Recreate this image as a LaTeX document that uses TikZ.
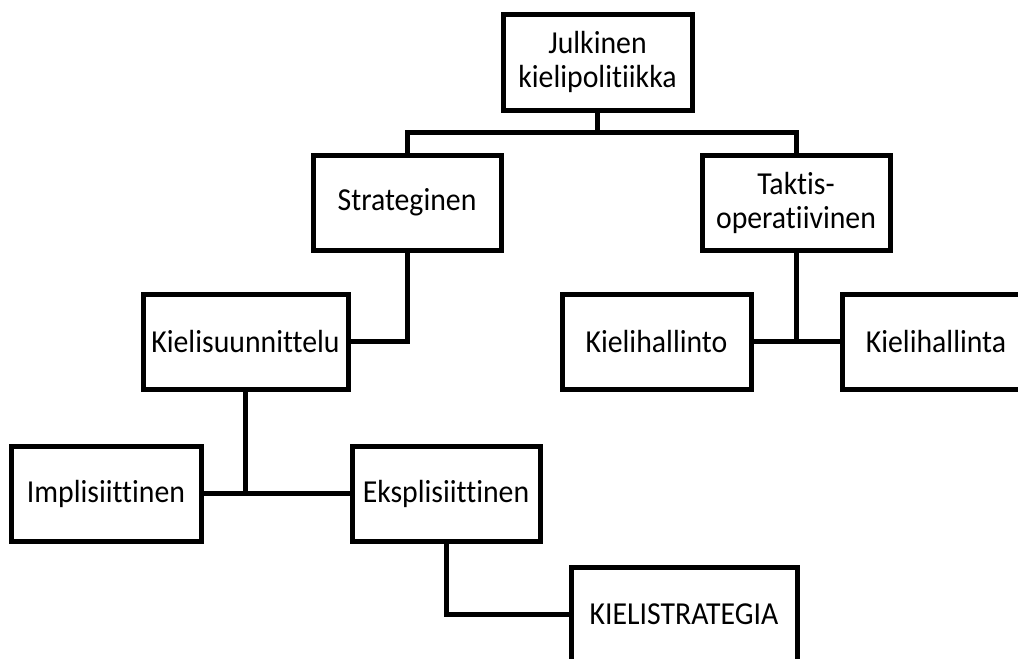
\documentclass[tikz,border=0pt]{standalone}
\usepackage{fontspec}
\setmainfont{Carlito}[FakeStretch=0.93,Ligatures=NoCommon]
\begin{document}
\begin{tikzpicture}[x=1pt,y=-1pt,
  box/.style={draw=black,line width=5pt,fill=white,minimum height=95pt,inner sep=0pt,align=center,
    font=\fontsize{32}{34}\selectfont},
  conn/.style={draw=black,line width=5pt,line join=miter}]
\useasboundingbox (0,0) rectangle (1018,659);
\clip (0,0) rectangle (1018,659);
\node[box,minimum width=189pt,minimum height=96pt] (jk) at (597.5,62) {Julkinen\\kielipolitiikka};
\node[box,minimum width=188pt] (st) at (407,202.5) {Strateginen};
\node[box,minimum width=188pt] (to) at (796,202.5) {Taktis-\\operatiivinen};
\node[box,minimum width=205pt] (ks) at (245.5,341.5) {Kielisuunnittelu};
\node[box,minimum width=189pt] (kho) at (656.5,341.5) {Kielihallinto};
\node[box,minimum width=188pt] (kha) at (936,341.5) {Kielihallinta};
\node[box,minimum width=190pt] (im) at (106,493.5) {Implisiittinen};
\node[box,minimum width=188pt] (ek) at (446,493.5) {Eksplisiittinen};
\node[box,minimum width=226pt] (kst) at (684,614.5) {KIELISTRATEGIA};
\coordinate (j1) at (597.5,132);
\draw[conn] (jk.south) -- (j1);
\draw[conn] (st.north) |- (j1) -| (to.north);
\draw[conn] (st.south) |- (ks.east);
\draw[conn] (to.south) -- (to.south |- kho.east);
\draw[conn] (kho.east) -- (kha.west);
\draw[conn] (ks.south) -- (ks.south |- im.east);
\draw[conn] (im.east) -- (ek.west);
\draw[conn] (ek.south) |- (kst.west);
\end{tikzpicture}
\end{document}
